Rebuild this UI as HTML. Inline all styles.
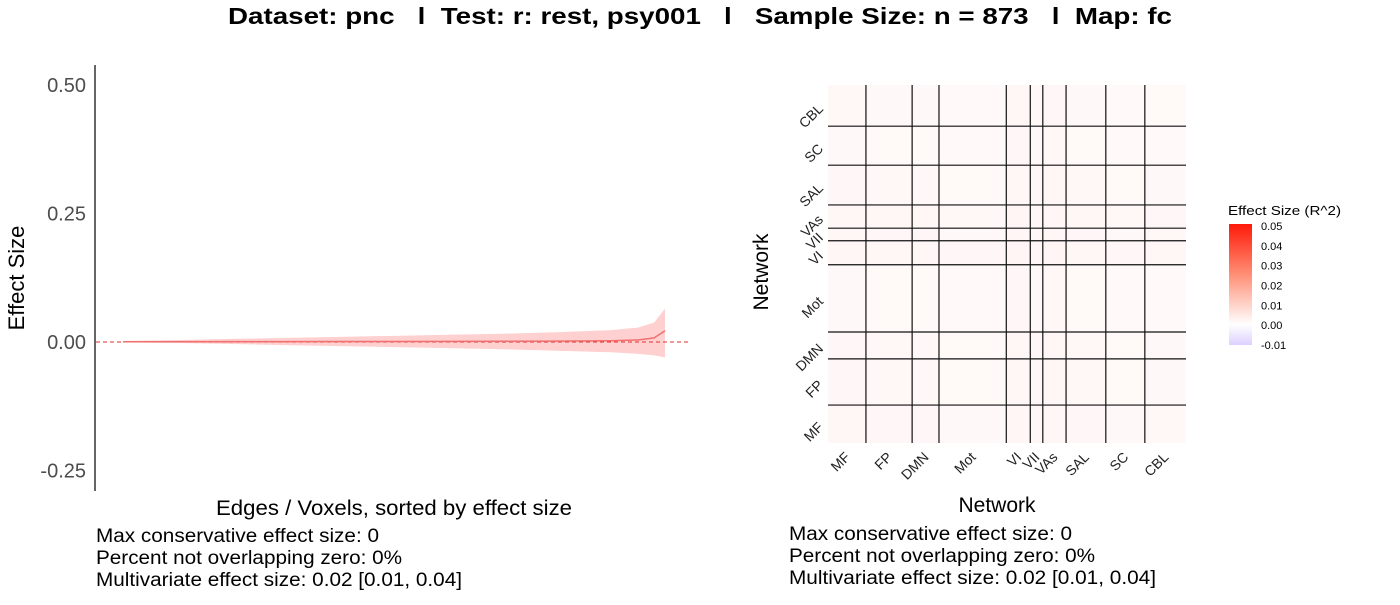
<!DOCTYPE html>
<html><head><meta charset="utf-8"><style>
body{margin:0;background:#fff;font-family:"Liberation Sans",Arial,sans-serif}
svg text{font-family:"Liberation Sans",Arial,sans-serif;white-space:pre}
</style></head><body>
<svg id="c" width="1400" height="600" xmlns="http://www.w3.org/2000/svg">
<text x="228" y="24" font-size="23" font-weight="bold" textLength="944" lengthAdjust="spacingAndGlyphs" xml:space="preserve">Dataset: pnc   l  Test: r: rest, psy001   l   Sample Size: n = 873   l  Map: fc</text>
<g id="left"></g>
<g id="right"></g>
<g font-size="19">
<text x="96" y="542" textLength="283" lengthAdjust="spacingAndGlyphs">Max conservative effect size: 0</text>
<text x="96" y="564" textLength="306" lengthAdjust="spacingAndGlyphs">Percent not overlapping zero: 0%</text>
<text x="96" y="586" textLength="366" lengthAdjust="spacingAndGlyphs">Multivariate effect size: 0.02 [0.01, 0.04]</text></g>
<g font-size="19">
<text x="789" y="540" textLength="283" lengthAdjust="spacingAndGlyphs">Max conservative effect size: 0</text>
<text x="789" y="562" textLength="306" lengthAdjust="spacingAndGlyphs">Percent not overlapping zero: 0%</text>
<text x="789" y="584" textLength="367" lengthAdjust="spacingAndGlyphs">Multivariate effect size: 0.02 [0.01, 0.04]</text></g>
</svg>
<script>
// left chart data
const ranks=[0,0.1,0.2,0.3,0.4,0.5,0.6,0.7,0.8,0.9,0.95,0.98,1];
const effect=[0.0005,0.0006,0.0007,0.0008,0.0009,0.001,0.0012,0.0014,0.0018,0.0025,0.004,0.008,0.022];
const upper=[0.002,0.004,0.006,0.008,0.01,0.012,0.014,0.016,0.019,0.023,0.028,0.038,0.065];
const lower=[-0.001,-0.002,-0.004,-0.006,-0.008,-0.01,-0.012,-0.014,-0.017,-0.02,-0.023,-0.026,-0.03];
const yTicks=[0.5,0.25,0,-0.25];
const yTickLabels=["0.50","0.25","0.00","-0.25"];
// heatmap data
const networks=["MF","FP","DMN","Mot","VI","VII","VAs","SAL","SC","CBL"];
const netBounds=[0,0.106,0.235,0.31,0.498,0.565,0.6,0.665,0.776,0.885,1];
const blockVals=[0.0018,0.0016,0.0016,0.0012,0.0022,0.0018,0.002,0.0016,0.0012,0.0014];
const legendTicks=[0.05,0.04,0.03,0.02,0.01,0,-0.01];
const legendLabels=["0.05","0.04","0.03","0.02","0.01","0.00","-0.01"];

const NS="http://www.w3.org/2000/svg";
function mk(p,t,a,txt){const e=document.createElementNS(NS,t);for(const k in a)e.setAttribute(k,a[k]);if(txt!=null)e.textContent=txt;p.appendChild(e);return e;}
const L=document.getElementById('left');
const xs=r=>123+r*542, ys=v=>342-v*514;
let band='M'+ranks.map((r,i)=>xs(r)+','+ys(upper[i])).join('L')+'L'+ranks.map((r,i)=>xs(r)+','+ys(lower[i])).reverse().join('L')+'Z';
let b=mk(L,'path',{d:band,fill:'#ffd0d0'});


let zl=mk(L,'line',{x1:96,x2:690,y1:ys(0),y2:ys(0),stroke:'#e03030','stroke-dasharray':'4,3','stroke-width':1});


let ln=mk(L,'path',{d:'M'+ranks.map((r,i)=>xs(r)+','+ys(effect[i])).join('L'),fill:'none',stroke:'#f07070','stroke-width':1.5});


let ax=mk(L,'line',{x1:95,x2:95,y1:65,y2:491,stroke:'#000','stroke-width':1.2});


yTicks.forEach((v,i)=>{let t=mk(L,'text',{x:86,y:ys(v)+7,'text-anchor':'end','font-size':20,fill:'#4d4d4d'},yTickLabels[i]);

});
let yt=mk(L,'text',{x:24,y:278,'text-anchor':'middle','font-size':22,transform:'rotate(-90 24 278)'},'Effect Size');


let xt=mk(L,'text',{x:216,y:515,'font-size':21,textLength:356,lengthAdjust:'spacingAndGlyphs'},'Edges / Voxels, sorted by effect size');



// heatmap
const R=document.getElementById('right');
const X0=828,X1=1186,Y0=85,Y1=443;
const hx=f=>X0+f*(X1-X0), hy=f=>Y1-f*(Y1-Y0);
function col(v){if(v>=0){const t=Math.min(v/0.05,1);return `rgb(255,${Math.round(255-t*230)},${Math.round(255-t*240)})`;}const t=Math.min(-v/0.01,1);return `rgb(${Math.round(255-t*25)},${Math.round(255-t*35)},255)`;}
networks.forEach((n,i)=>networks.forEach((m,j)=>{
 const v=(blockVals[i]+blockVals[j])/2;
 let r=mk(R,'rect',{x:hx(netBounds[i]),y:hy(netBounds[j+1]),width:hx(netBounds[i+1])-hx(netBounds[i]),height:hy(netBounds[j])-hy(netBounds[j+1]),fill:col(v)});
 
 
}));
netBounds.slice(1,-1).forEach(f=>{
 let v=mk(R,'line',{x1:hx(f),x2:hx(f),y1:Y0,y2:Y1,stroke:'#111','stroke-width':1.2});
 
 
 let h=mk(R,'line',{x1:X0,x2:X1,y1:hy(f),y2:hy(f),stroke:'#111','stroke-width':1.2});
 
 
});
networks.forEach((n,i)=>{
 const c=(netBounds[i]+netBounds[i+1])/2;
 const x=hx(c)+4,y=458;
 let t=mk(R,'text',{x:x,y:y,'text-anchor':'end','font-size':14,fill:'#222',transform:`rotate(-45 ${x} ${y})`},n);
 
 
 const yy=hy(c)+4,xx=824;
 let u=mk(R,'text',{x:xx,y:yy,'text-anchor':'end','font-size':14,fill:'#222',transform:`rotate(-45 ${xx} ${yy})`},n);
 
 
});
let hxT=mk(R,'text',{x:997,y:512,'text-anchor':'middle','font-size':21},'Network');


let hyT=mk(R,'text',{x:768,y:272,'text-anchor':'middle','font-size':21,transform:'rotate(-90 768 272)'},'Network');


// legend
const defs=mk(R,'defs',{});const g=mk(defs,'linearGradient',{id:'lg',x1:0,y1:0,x2:0,y2:1});
[[0,'#ff1a0a'],[0.4,'#ff8a70'],[0.83,'#ffffff'],[1,'#ddd0ff']].forEach(s=>mk(g,'stop',{offset:s[0],'stop-color':s[1]}));
const ly=v=>226+(0.05-v)/0.06*(345-226);
let lb=mk(R,'rect',{x:1229,y:224,width:23,height:121,fill:'url(#lg)'});


let lt=mk(R,'text',{x:1228,y:215,'font-size':13,textLength:113,lengthAdjust:'spacingAndGlyphs'},'Effect Size (R^2)');


legendTicks.forEach((v,i)=>{let t=mk(R,'text',{x:1261,y:ly(v)+4,'font-size':11},legendLabels[i]);

});
</script>
</body></html>
